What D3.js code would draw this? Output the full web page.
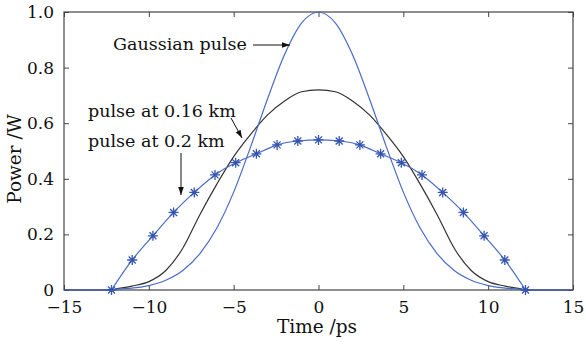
<html>
<head><meta charset="utf-8"></head>
<script src="https://d3js.org/d3.v7.min.js"></script>
<body style="margin:0;background:#fff">
<svg width="586" height="347"></svg>
<script>
// time grid (ps) for the two smooth curves
const timeGrid = [-15, -12.2, -12, -11, -10, -9, -8, -7, -6, -5, -4, -3, -2, -1, 0, 1, 2, 3, 4, 5, 6, 7, 8, 9, 10, 11, 12, 12.2, 15]
const gaussPower = [0, 0, 0.002, 0.007, 0.016, 0.035, 0.07, 0.13, 0.222, 0.352, 0.515, 0.688, 0.847, 0.96, 1.0, 0.96, 0.847, 0.688, 0.515, 0.352, 0.222, 0.13, 0.07, 0.035, 0.016, 0.007, 0.002, 0, 0]
const pulse016Power = [0, 0, 0.003, 0.014, 0.03, 0.07, 0.15, 0.27, 0.38, 0.48, 0.56, 0.63, 0.68, 0.713, 0.72, 0.713, 0.68, 0.63, 0.56, 0.48, 0.38, 0.27, 0.15, 0.07, 0.03, 0.014, 0.003, 0, 0]
// starred curve, one point per marker
const markerTime = [-12.2, -10.98, -9.76, -8.54, -7.32, -6.1, -4.88, -3.66, -2.44, -1.22, 0, 1.22, 2.44, 3.66, 4.88, 6.1, 7.32, 8.54, 9.76, 10.98, 12.2]
const pulse02Power = [0, 0.108, 0.195, 0.279, 0.351, 0.414, 0.458, 0.49, 0.522, 0.536, 0.54, 0.536, 0.522, 0.49, 0.458, 0.414, 0.351, 0.279, 0.195, 0.108, 0]
const xTicks = [-15, -10, -5, 0, 5, 10, 15]
const yTicks = [0, 0.2, 0.4, 0.6, 0.8, 1.0]

const svg = d3.select("svg")
const margin = {top: 12, right: 13, bottom: 57, left: 64}
const width = +svg.attr("width")
const height = +svg.attr("height")
const font = "DejaVu Serif"
const blue = "#4a6bc6"

const xs = d3.scaleLinear().domain([-15, 15]).range([margin.left, width - margin.right])
const ys = d3.scaleLinear().domain([0, 1]).range([height - margin.bottom, margin.top])

// frame
svg.append("rect")
  .attr("x", xs(-15)).attr("y", ys(1))
  .attr("width", xs(15) - xs(-15)).attr("height", ys(0) - ys(1))
  .attr("fill", "none").attr("stroke", "#444").attr("stroke-width", 1.2)

const styleAxis = g => {
  g.select(".domain").remove()
  g.selectAll("line").attr("stroke", "#444")
  g.selectAll("text").attr("font-family", font).attr("font-size", 17).attr("fill", "#111")
}

svg.append("g").attr("transform", "translate(0," + ys(0) + ")")
  .call(d3.axisBottom(xs).tickValues(xTicks).tickSize(-5).tickSizeOuter(0).tickPadding(11))
  .call(styleAxis)
svg.append("g").attr("transform", "translate(0," + ys(1) + ")")
  .call(d3.axisTop(xs).tickValues(xTicks).tickSize(-5).tickSizeOuter(0).tickFormat(""))
  .call(styleAxis)
svg.append("g").attr("transform", "translate(" + xs(-15) + ",0)")
  .call(d3.axisLeft(ys).tickValues(yTicks).tickSize(-5).tickSizeOuter(0).tickPadding(10)
    .tickFormat(d => d === 0 ? "0" : d.toFixed(1)))
  .call(styleAxis)
svg.append("g").attr("transform", "translate(" + xs(15) + ",0)")
  .call(d3.axisRight(ys).tickValues(yTicks).tickSize(-5).tickSizeOuter(0).tickFormat(""))
  .call(styleAxis)

// curves
const line = d3.line().x(d => xs(d[0])).y(d => ys(d[1])).curve(d3.curveMonotoneX)

svg.append("path")
  .datum(timeGrid.map((t, i) => [t, pulse016Power[i]]))
  .attr("d", line).attr("fill", "none").attr("stroke", "#333").attr("stroke-width", 1.2)

svg.append("path")
  .datum(timeGrid.map((t, i) => [t, gaussPower[i]]))
  .attr("d", line).attr("fill", "none").attr("stroke", blue).attr("stroke-width", 1.2)

const starLine = d3.line().x(d => xs(d[0])).y(d => ys(d[1])).curve(d3.curveNatural)
const starData = markerTime.map((t, i) => [t, pulse02Power[i]])
svg.append("path")
  .datum(starData)
  .attr("d", starLine).attr("fill", "none").attr("stroke", blue).attr("stroke-width", 1.2)

// asterisk markers
const r = 5
const mk = svg.append("g").selectAll("g").data(starData).enter().append("g")
  .attr("transform", d => "translate(" + xs(d[0]) + "," + ys(d[1]) + ")")
mk.append("path")
  .attr("d", "M" + (-r) + ",0H" + r + "M0," + (-r) + "V" + r +
    "M" + (-r * 0.7) + "," + (-r * 0.7) + "L" + (r * 0.7) + "," + (r * 0.7) +
    "M" + (-r * 0.7) + "," + (r * 0.7) + "L" + (r * 0.7) + "," + (-r * 0.7))
  .attr("stroke", "#3556b0").attr("stroke-width", 1.3).attr("fill", "none")

// annotations
svg.append("defs").append("marker")
  .attr("id", "arr").attr("viewBox", "0 0 10 10").attr("refX", 10).attr("refY", 5)
  .attr("markerWidth", 8).attr("markerHeight", 8).attr("orient", "auto")
  .append("path").attr("d", "M0,1.5L10,5L0,8.5Z").attr("fill", "#111")

const label = (txt, x, y) => svg.append("text").attr("x", x).attr("y", y)
  .attr("font-family", font).attr("font-size", 17.5).attr("fill", "#111").text(txt)
const arrow = (x1, y1, x2, y2) => svg.append("line")
  .attr("x1", x1).attr("y1", y1).attr("x2", x2).attr("y2", y2)
  .attr("stroke", "#111").attr("stroke-width", 1).attr("marker-end", "url(#arr)")

label("Gaussian pulse", 113, 50)
arrow(253, 45, 290, 45)
label("pulse at 0.16 km", 88, 117)
arrow(231, 118, 242, 138)
label("pulse at 0.2 km", 88, 147)
arrow(181, 153, 181, 195)

// axis titles
svg.append("text").attr("x", 317).attr("y", 333).attr("text-anchor", "middle")
  .attr("font-family", font).attr("font-size", 18.5).attr("fill", "#111").text("Time /ps")
svg.append("text").attr("transform", "translate(21,159) rotate(-90)").attr("text-anchor", "middle")
  .attr("font-family", font).attr("font-size", 18.5).attr("fill", "#111").text("Power /W")
</script>
</body>
</html>
